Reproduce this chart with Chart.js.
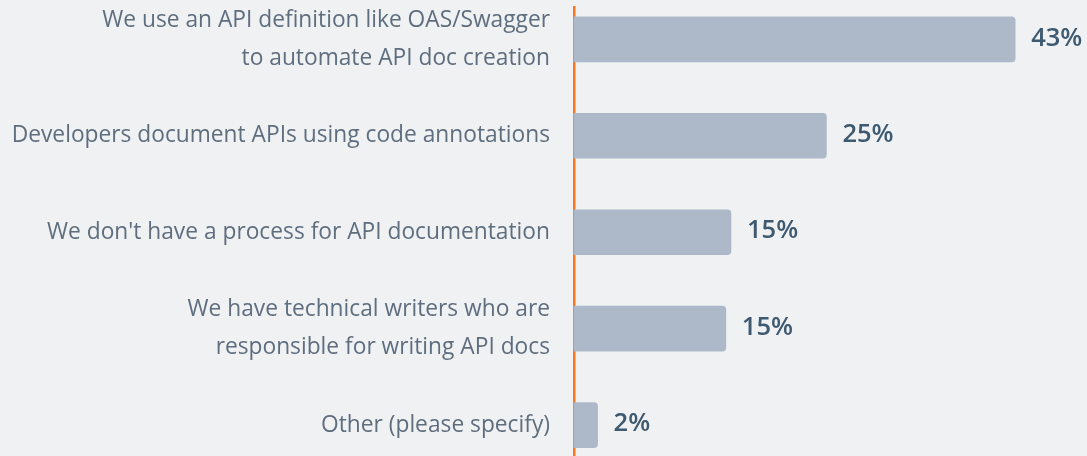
<!DOCTYPE html>
<html>
<head>
<meta charset="utf-8">
<script src="https://cdn.jsdelivr.net/npm/chart.js@4"></script>
<style>
  html, body { margin: 0; padding: 0; background: #f0f1f3; }
  #wrap { width: 1087px; height: 456px; position: relative; }
</style>
</head>
<body>
<div id="wrap"><canvas id="c"></canvas></div>
<script>
const categories = [
  ["We use an API definition like OAS/Swagger", "to automate API doc creation"],
  ["Developers document APIs using code annotations"],
  ["We don't have a process for API documentation"],
  ["We have technical writers who are", "responsible for writing API docs"],
  ["Other (please specify)"]
];
const values = [43, 24.6, 15.3, 14.8, 2.3];
const valueLabels = ["43%", "25%", "15%", "15%", "2%"];

const points = values.map((v, i) => ({ x: v, y: i }));

const valueLabelPlugin = {
  id: 'valueLabels',
  afterDatasetsDraw(chart) {
    const ctx = chart.ctx;
    const meta = chart.getDatasetMeta(0);
    ctx.save();
    ctx.font = '600 25.5px "Open Sans"';
    ctx.fillStyle = '#3e5a71';
    ctx.textAlign = 'left';
    ctx.textBaseline = 'middle';
    meta.data.forEach((el, i) => {
      ctx.fillText(valueLabels[i], el.x + 16, el.y - 1);
    });
    ctx.restore();
  }
};

new Chart(document.getElementById('c'), {
  type: 'bar',
  data: {
    datasets: [{
      data: points,
      backgroundColor: '#adb9c9',
      borderRadius: 4,
      borderSkipped: 'start',
      barThickness: 45,
      clip: false
    }]
  },
  plugins: [valueLabelPlugin],
  options: {
    indexAxis: 'y',
    responsive: true,
    maintainAspectRatio: false,
    animation: false,
    layout: { padding: { top: 7, bottom: 0, left: 0, right: 0 } },
    plugins: { legend: { display: false }, tooltip: { enabled: false } },
    scales: {
      x: {
        type: 'linear',
        display: false,
        min: 0,
        max: 50
      },
      y: {
        type: 'linear',
        offset: false,
        reverse: true,
        min: -0.335,
        max: 4.32,
        afterBuildTicks(scale) {
          scale.ticks = categories.map((c, i) => ({ value: i }));
        },
        afterFit(scale) {
          scale.width = 574;
          scale.paddingTop = 0;
          scale.paddingBottom = 0;
        },
        grid: { display: true, offset: false, color: 'rgba(0,0,0,0)', drawTicks: false },
        border: { display: true, color: '#f7791c', width: 2.5 },
        ticks: {
          padding: 24,
          color: '#5f6e7f',
          font: { family: '"Open Sans"', size: 22.75, lineHeight: 1.66 },
          callback: (v) => categories[v]
        }
      }
    }
  }
});
</script>
</body>
</html>
